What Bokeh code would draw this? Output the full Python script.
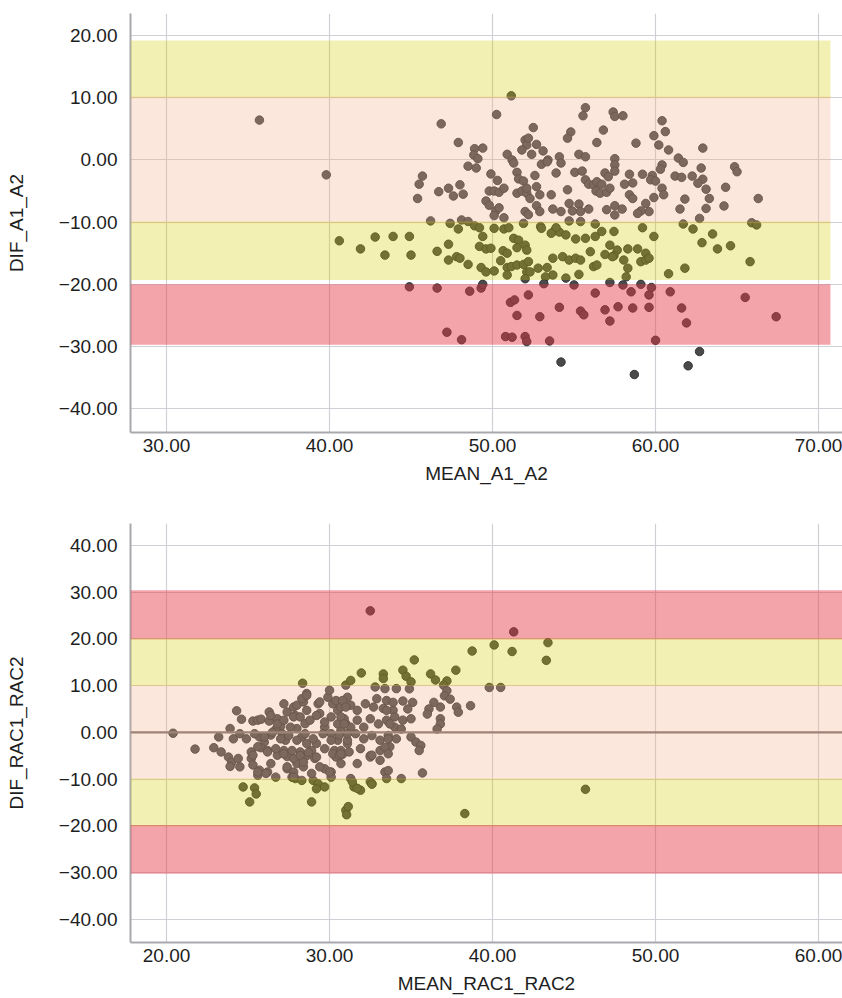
from bokeh.plotting import figure
from bokeh.models import BoxAnnotation, Span, FixedTicker, CustomJSTickFormatter, Range1d, ColumnDataSource
from bokeh.layouts import column
from bokeh.embed import file_html
from bokeh.resources import INLINE

# ---------------- data: chart 1 (A1 vs A2) ----------------
mean_a1_a2 = [
    35.7, 39.8, 40.6, 41.9, 42.8, 43.4, 43.9, 44.9, 45.0,
    51.15, 50.25, 46.85, 47.9, 48.9, 49.4, 48.85, 49.1, 48.5, 49.0, 49.9,
    50.9, 51.2, 51.3, 52.0, 52.1, 51.8, 50.3, 51.5, 51.6, 51.9,
    45.7, 45.5, 45.4, 46.7, 47.3, 47.6, 48.0, 48.2, 49.8, 50.1, 50.4, 50.7,
    49.6, 49.8, 50.2, 50.1, 50.4, 51.5, 51.8, 52.1, 52.0, 52.2, 50.7,
    46.2, 47.4, 47.9, 48.1, 48.5, 48.9, 49.2, 50.1, 50.7, 51.0, 51.9,
    55.7, 55.55, 57.4, 57.5, 58.0, 52.5, 52.2, 52.7, 52.4, 53.1, 53.4, 53.0, 53.35,
    54.8, 54.6, 54.1, 54.2, 56.8, 56.4, 55.3, 55.7, 57.5, 57.5, 57.5,
    58.8, 59.9, 60.2, 60.4, 60.6,
    52.6, 52.1, 52.7, 52.9, 52.3, 52.7, 52.9, 53.9, 53.6, 53.7, 54.2, 54.6,
    55.05, 55.5, 55.7, 55.9, 56.2, 56.4, 56.7, 56.35, 56.6, 57.0, 57.2, 56.9, 57.1,
    58.1, 58.4, 58.6, 58.4, 58.6, 59.2, 59.8, 59.7, 60.0,
    59.9, 59.4, 59.6, 59.1, 60.4, 60.4, 60.5,
    54.7, 55.3, 55.4, 55.9, 54.9, 57.0, 57.5, 57.5, 57.95, 58.9,
    52.95, 54.7, 55.4, 56.3, 57.45,
    60.8, 62.9, 61.4, 61.7, 60.3, 62.8, 64.85, 65.0,
    61.2, 61.6, 62.25, 62.9, 62.6, 63.1, 63.3, 64.3, 64.2, 63.1, 61.5, 61.8,
    66.3, 62.7, 61.7, 65.9, 66.2, 62.3, 63.5, 62.85, 64.6, 63.8,
    65.8, 61.8, 60.8, 60.9, 65.5, 61.6, 61.9, 67.4, 62.7, 62.0,
    46.6, 47.3, 47.3, 47.8, 48.0, 48.5,
    49.4, 49.2, 49.6, 49.9, 50.65, 50.9, 51.3, 51.6, 51.5, 52.0,
    49.3, 49.6, 50.1, 50.5, 50.9, 51.15, 51.5, 50.9, 52.1, 51.9, 52.0,
    44.9, 46.6, 48.6, 49.3, 49.4, 47.2, 48.1, 51.1, 51.35, 51.5,
    50.8, 51.2, 52.0, 52.1, 52.2,
    53.0, 53.8, 54.1, 54.5, 53.9, 53.6, 55.1, 55.7, 56.3, 56.7,
    57.2, 57.65, 57.45, 59.2, 59.9, 58.3, 58.9, 59.4, 59.1, 59.4, 59.6,
    52.1, 52.2, 52.8, 53.35, 53.7, 54.3, 54.7, 55.1, 55.4, 56.0, 56.2, 56.4,
    56.9, 57.35, 58.05, 58.3, 58.2, 55.3, 54.5, 53.7, 53.25, 53.15, 52.3,
    55.0, 56.3, 52.9, 54.1, 55.4, 55.6, 56.9, 57.2, 57.7, 58.6, 59.6,
    57.2, 58.0, 58.5, 59.1, 59.6, 59.75, 53.5, 60.0, 54.2, 58.7,
]
dif_a1_a2 = [
    6.4, -2.4, -13.0, -14.3, -12.4, -15.3, -12.3, -12.3, -15.3,
    10.3, 7.3, 5.8, 2.8, 1.8, 1.9, 0.8, 0.2, -1.0, -1.3, -2.25,
    0.9, 0.0, -0.5, 3.2, 2.4, 1.6, -3.3, -2.0, -3.05, -3.4,
    -2.6, -3.9, -6.2, -5.1, -4.55, -5.8, -4.0, -5.5, -5.0, -5.0, -5.2, -4.55,
    -6.6, -7.3, -8.2, -8.95, -7.7, -5.35, -5.0, -5.35, -8.3, -8.8, -9.3,
    -9.8, -10.2, -11.1, -9.65, -9.9, -10.6, -10.9, -11.0, -11.1, -10.9, -10.2,
    8.4, 7.1, 7.7, 7.0, 7.1, 5.2, 3.5, 2.5, 0.9, 1.45, 0.0, -0.7, -0.3,
    4.5, 3.5, 0.5, -0.5, 4.8, 2.8, 0.9, 0.5, 0.2, -0.8, -1.8,
    2.7, 3.9, 2.4, 6.3, 4.55,
    -2.5, -4.55, -4.3, -5.6, -6.2, -7.35, -8.3, -2.1, -5.6, -7.9, -8.3, -4.8,
    -2.0, -1.8, -3.2, -3.9, -4.0, -3.5, -3.9, -5.0, -5.35, -5.2, -4.55, -2.1, -2.7,
    -3.9, -2.3, -3.7, -5.6, -6.2, -2.3, -2.5, -3.2, -3.4,
    -6.05, -7.0, -8.3, -8.2, -0.8, -4.55, -5.6,
    -7.0, -7.1, -8.3, -7.9, -8.2, -8.0, -7.35, -8.85, -7.9, -8.6,
    -10.7, -9.8, -9.9, -10.3, -11.5,
    1.6, 1.9, 0.3, -0.4, -1.5, -1.3, -1.1, -1.9,
    -2.6, -2.8, -2.6, -3.1, -3.75, -4.7, -6.2, -4.4, -7.4, -7.8, -7.9, -6.3,
    -6.2, -9.4, -10.3, -10.1, -10.45, -11.1, -11.9, -13.3, -13.8, -14.3,
    -16.35, -17.4, -18.3, -21.2, -22.1, -23.8, -26.2, -25.2, -30.8, -33.1,
    -14.7, -13.55, -16.1, -15.55, -15.8, -16.8,
    -12.3, -13.9, -14.3, -14.2, -14.6, -15.0, -12.6, -12.9, -14.1, -13.7,
    -17.3, -18.0, -17.85, -16.2, -17.3, -17.15, -16.9, -18.5, -18.0, -16.8, -19.1,
    -20.4, -20.6, -21.1, -20.6, -20.0, -27.7, -28.9, -22.9, -22.5, -25.0,
    -28.4, -28.5, -28.4, -29.2, -21.7,
    -11.0, -11.4, -11.6, -12.05, -10.9, -11.8, -12.7, -12.6, -12.3, -11.5,
    -13.7, -14.5, -15.4, -10.9, -12.3, -14.3, -14.3, -15.0, -16.35, -16.1, -15.8,
    -14.5, -16.35, -17.4, -17.3, -15.8, -15.55, -16.1, -15.8, -16.1, -14.75, -17.15, -16.9,
    -15.2, -15.55, -16.1, -17.4, -18.8, -18.4, -19.0, -18.5, -18.8, -19.9, -18.0,
    -20.1, -21.4, -25.2, -23.7, -24.3, -24.9, -24.1, -25.9, -23.6, -23.8, -23.7,
    -19.7, -20.1, -21.2, -20.0, -21.7, -20.5, -29.1, -29.0, -32.5, -34.5,
]

# ---------------- data: chart 2 (RAC1 vs RAC2) ----------------
mean_rac1_rac2 = [
    20.4, 21.75, 32.5, 41.3, 40.1, 41.2, 38.75, 43.4, 43.3, 39.8, 40.5, 37.75, 35.2,
    38.65, 45.7, 38.3, 31.0, 31.05, 31.15, 28.9, 25.1, 24.7, 25.4, 25.5, 28.35, 31.95,
    24.3, 24.6, 25.3, 25.6, 25.8, 23.9, 23.2, 22.9, 23.35, 24.1, 24.5, 24.9,
    23.8, 24.0, 24.4, 24.5, 23.9, 25.2, 25.2, 25.3, 25.7, 26.3, 26.3,
    25.7, 26.0, 25.8, 26.2, 26.4, 26.8, 27.0, 26.7, 27.1, 27.3, 27.2, 27.4, 26.8,
    27.2, 27.4, 27.8, 27.9, 26.2, 26.7, 25.6, 27.4, 27.8, 27.7,
    28.0, 28.3, 28.5, 28.6, 28.2, 28.6, 28.9, 29.2, 29.1, 28.0, 28.4, 27.8,
    27.8, 28.6, 28.0, 28.4, 28.6, 29.3, 29.4, 29.9, 30.2, 30.1, 30.5,
    29.7, 30.1, 30.5, 30.7, 31.0, 30.3, 30.8, 31.1, 30.4, 30.7, 30.1, 29.7,
    27.9, 28.3, 29.0, 29.3, 29.7, 29.2, 30.1, 31.0,
    31.3, 33.3, 33.3, 30.0, 28.3, 28.6, 29.4, 30.4, 31.1, 30.7, 31.3, 31.7, 32.2,
    32.8, 33.4, 34.1, 32.9, 33.5, 32.7, 33.3, 33.9, 26.4, 26.8, 27.2, 27.6,
    28.2, 28.8, 29.2, 29.7, 30.5, 30.9, 31.3, 31.7, 32.1, 32.5, 33.0, 33.5, 34.0,
    25.4, 26.0, 26.5, 27.0, 27.5, 28.0, 28.5, 29.0, 29.6, 30.1, 30.6, 31.1, 31.6, 32.1, 32.6, 33.1, 33.6, 34.1,
    25.6, 26.2, 26.7, 27.2, 27.7, 28.2, 28.7, 29.2, 29.7, 30.2, 30.7, 31.2, 31.9, 32.5, 33.1, 33.7,
    26.4, 27.4, 28.4, 29.4, 30.6, 31.7, 32.5, 33.1,
    25.6, 26.1, 27.8, 28.9, 30.0, 31.3, 32.5, 33.4, 31.5, 31.9, 32.6, 25.3,
    34.5, 34.7, 35.0, 36.2, 36.5, 37.2, 37.0, 34.9, 37.2, 37.05, 37.4, 36.8, 37.8, 37.9,
    36.4, 36.1, 36.0, 36.8, 36.8, 36.6, 34.5, 35.1, 34.8, 33.9, 33.5,
    34.0, 34.5, 35.0, 33.7, 34.4, 35.0, 35.3, 35.6, 35.5, 33.6, 33.4, 33.6, 32.6,
    35.7, 33.6, 33.5, 34.4, 32.6, 31.4, 31.7, 30.8, 31.0, 30.7, 30.9, 31.1, 30.7,
]
dif_rac1_rac2 = [
    -0.2, -3.6, 26.0, 21.5, 18.7, 17.3, 17.4, 19.2, 15.4, 9.6, 9.6, 13.3, 15.5,
    5.7, -12.2, -17.4, -16.7, -17.65, -15.9, -14.9, -14.9, -11.7, -11.9, -13.2, 10.5, 12.7,
    4.6, 2.8, 2.4, 2.6, 2.8, 0.8, -1.0, -3.3, -4.2, -1.4, -0.3, -1.4,
    -5.3, -6.4, -5.6, -7.4, -7.3, -4.2, -5.6, -7.0, -8.1, 4.35, 2.4,
    -1.0, -2.1, -3.3, -3.9, -0.6, 2.9, 1.3, 0.6, -0.3, -1.7, -3.9, -5.2, -4.9,
    6.1, 4.35, 5.4, 3.6, -8.5, -9.6, -9.2, -7.8, -8.5, -9.6,
    0.8, -1.0, 1.85, -2.4, -4.2, -5.0, -3.9, -2.4, -5.6, -6.7, -7.4, -5.6,
    3.3, 4.7, 5.8, 6.5, 8.3, 6.1, 4.0, 7.5, 6.1, 3.3, 4.7,
    1.1, -0.3, -1.7, 0.4, 1.85, -3.9, -4.7, -2.4, -5.3, -6.7, -8.5, -7.8,
    -9.9, -10.3, -10.3, -11.0, -11.7, -12.1, -9.6, 10.1,
    11.1, 12.5, 11.5, 9.0, 7.2, 7.9, 6.5, 6.8, 7.5, 5.4, 5.8, 4.7, 6.1,
    9.7, 9.35, 9.35, 7.2, 6.8, 5.4, 5.1, 4.7, 3.6, 1.8, 2.6, 1.1,
    3.3, 2.6, 3.6, 2.2, 1.8, 2.9, 1.1, 2.6, 1.1, 2.9, 1.8, 2.6, 1.1,
    -0.3, -1.0, 0.0, -1.4, -0.7, -1.7, -0.3, -1.4, -0.3, -1.7, -0.6, -1.7, -0.3, -1.4, -0.7, -1.7, -0.7, -1.4,
    -3.1, -4.2, -3.5, -4.6, -3.9, -5.0, -4.3, -5.3, -3.5, -4.6, -3.9, -4.2, -3.5, -5.0, -3.9, -3.1,
    -6.7, -7.4, -6.4, -7.4, -4.9, -6.7, -5.3, -6.0,
    -8.5, -8.8, -9.6, -8.8, -8.5, -9.9, -10.6, -8.5, -11.7, -12.4, -11.0, -4.9,
    13.3, 12.0, 10.8, 12.5, 11.2, 11.0, 10.1, 9.3, 8.9, 7.8, 7.1, 5.4, 5.4, 4.3,
    6.4, 5.0, 3.9, 2.9, 1.8, 0.7, 6.7, 6.4, 5.0, 6.4, 4.7,
    3.3, 2.6, 2.9, 1.8, 0.7, -1.0, -2.1, -2.8, -3.9, -1.4, -3.2, -4.6, -4.9,
    -8.7, -8.2, -9.9, -9.9, -11.1, -10.6, -12.0, 6.8, 5.4, 3.3, 1.8, -0.3, -4.6,
]

# ticks
top_x_ticks = [30, 40, 50, 60, 70]
top_y_ticks = [-40, -30, -20, -10, 0, 10, 20]
bot_x_ticks = [20, 30, 40, 50, 60]
bot_y_ticks = [-40, -30, -20, -10, 0, 10, 20, 30, 40]

# reference areas (bottom, top, kind)
top_bands = [(9.9, 19.2, "y"), (-10.2, 10.2, "p"), (-19.3, -9.9, "y"), (-29.7, -20.0, "r")]
bot_bands = [(19.85, 30.4, "r"), (9.9, 20.15, "y"), (-10.1, 10.1, "p"), (-20.15, -9.9, "y"), (-30.3, -19.85, "r")]

BAND = {"y": ("#d4cd00", 0.30), "p": ("#f5af8a", 0.30), "r": ("#e43542", 0.45)}
FONT = "Liberation Sans"
fmt_code = "return (tick < 0 ? '\u2212' : '') + Math.abs(tick).toFixed(2);"


def make_plot(xs, ys, xr, yr, xt, yt, xlabel, ylabel, height, b_top, b_bottom, bands, band_right, zero_line):
    p = figure(width=842, height=height, x_range=Range1d(*xr), y_range=Range1d(*yr),
               output_backend="svg", toolbar_location=None,
               min_border_left=130, min_border_right=0,
               min_border_top=b_top, min_border_bottom=b_bottom)
    p.outline_line_color = None
    p.background_fill_color = "white"
    p.border_fill_color = "white"

    p.xaxis.ticker = FixedTicker(ticks=xt)
    p.yaxis.ticker = FixedTicker(ticks=yt)
    for ax in (p.xaxis[0], p.yaxis[0]):
        ax.formatter = CustomJSTickFormatter(code=fmt_code)
        ax.axis_line_color = "#a9a9ad"
        ax.axis_line_width = 2
        ax.major_tick_line_color = None
        ax.minor_tick_line_color = None
        ax.major_label_text_font = FONT
        ax.major_label_text_font_size = "19px"
        ax.major_label_text_color = "#1e1e1e"
        ax.axis_label_text_font = FONT
        ax.axis_label_text_font_size = "19px"
        ax.axis_label_text_font_style = "normal"
        ax.axis_label_text_color = "#1e1e1e"
    p.xaxis.axis_label = xlabel
    p.yaxis.axis_label = ylabel
    p.xaxis.major_label_standoff = 0
    p.xaxis.axis_label_standoff = 8
    p.yaxis.major_label_standoff = 7
    p.yaxis.axis_label_standoff = 29

    p.xgrid.grid_line_color = "#cfcfd6"
    p.ygrid.grid_line_color = "#cfcfd6"
    p.xgrid.grid_line_width = 1.2
    p.ygrid.grid_line_width = 1.2

    src = ColumnDataSource(data=dict(x=xs, y=ys))
    p.scatter("x", "y", source=src, size=8.5, fill_color="#4a4a4a",
              line_color="#2e2e2e", line_width=0.9)

    if zero_line:
        p.add_layout(Span(location=0, dimension="width", line_color="#777070", line_width=2.2))

    for lo, hi, kind in bands:
        col, alpha = BAND[kind]
        p.add_layout(BoxAnnotation(bottom=lo, top=hi, right=band_right,
                                   fill_color=col, fill_alpha=alpha, line_color=None))
    return p


p1 = make_plot(mean_a1_a2, dif_a1_a2, (27.79, 71.47), (-43.82, 23.54), top_x_ticks, top_y_ticks,
               "MEAN_A1_A2", "DIF_A1_A2", 500, 13, 68, top_bands, 70.73, False)
p2 = make_plot(mean_rac1_rac2, dif_rac1_rac2, (17.79, 61.47), (-45.0, 44.7), bot_x_ticks, bot_y_ticks,
               "MEAN_RAC1_RAC2", "DIF_RAC1_RAC2", 498, 23, 56, bot_bands, None, True)

layout = column(p1, p2, spacing=0)
open("out.html", "w").write(file_html(layout, INLINE))
